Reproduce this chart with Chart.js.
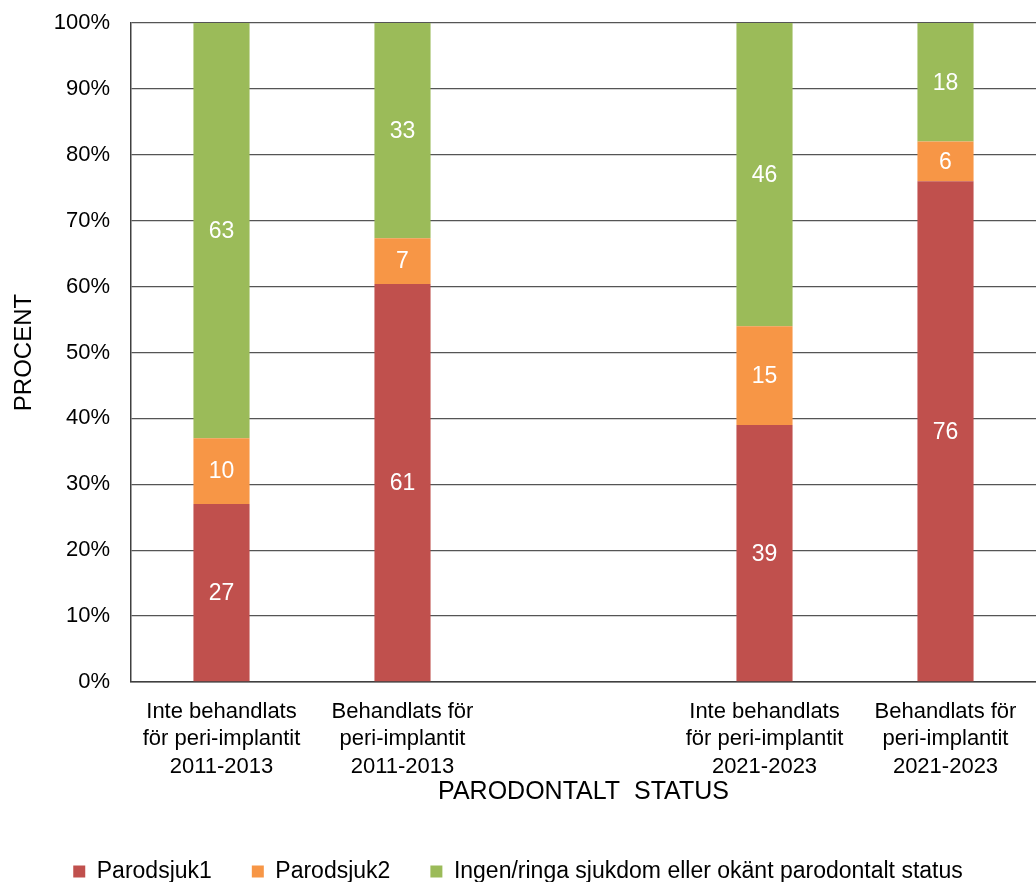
<!DOCTYPE html>
<html lang="sv">
<head>
<meta charset="UTF-8">
<title>Parodontalt status</title>
<script src="https://cdn.jsdelivr.net/npm/chart.js"></script>
<style>
    html, body { margin: 0; padding: 0; background: #fff; }
    #wrap { width: 1036px; height: 882px; position: relative; }
</style>
</head>
<body>
<div id="wrap"><canvas id="myChart"></canvas></div>
<script>
// kategorier (tom plats mellan perioderna)
const categories = [
    ['Inte behandlats', 'för peri-implantit', '2011-2013'],
    ['Behandlats för', 'peri-implantit', '2011-2013'],
    '',
    ['Inte behandlats', 'för peri-implantit', '2021-2023'],
    ['Behandlats för', 'peri-implantit', '2021-2023']
];
const parodsjuk1 = [27, 61, null, 39, 76];
const parodsjuk2 = [10, 7, null, 15, 6];
const ingen = [63, 33, null, 46, 18];
const seriesNames = ['Parodsjuk1', 'Parodsjuk2', 'Ingen/ringa sjukdom eller okänt parodontalt status'];
const colors = ['#C0504D', '#F79646', '#9BBB59'];

// staplarna visas som andel av summan (100 %)
const raw = [parodsjuk1, parodsjuk2, ingen];
const totals = categories.map((c, i) => raw.reduce((s, arr) => s + (arr[i] || 0), 0));
const pct = raw.map(arr => arr.map((v, i) => v == null ? null : v / totals[i] * 100));

const FONT = "'Liberation Sans', Arial, sans-serif";

// etiketter i staplarna
const valueLabels = {
    id: 'valueLabels',
    afterDatasetsDraw(chart) {
        const ctx = chart.ctx;
        ctx.save();
        ctx.font = '23px ' + FONT;
        ctx.fillStyle = '#fff';
        ctx.textAlign = 'center';
        ctx.textBaseline = 'middle';
        chart.data.datasets.forEach((ds, di) => {
            const meta = chart.getDatasetMeta(di);
            meta.data.forEach((bar, i) => {
                const v = raw[di][i];
                if (v == null) return;
                const y = (bar.y + bar.base) / 2;
                ctx.fillText(String(v), bar.x, y + 1);
            });
        });
        ctx.restore();
    }
};

const ctx = document.getElementById('myChart').getContext('2d');
const myChart = new Chart(ctx, {
    type: 'bar',
    data: {
        labels: categories,
        datasets: pct.map((d, i) => ({
            label: seriesNames[i],
            data: d,
            backgroundColor: colors[i],
            borderWidth: 0,
            barPercentage: 0.31,
            categoryPercentage: 1
        }))
    },
    options: {
        responsive: true,
        maintainAspectRatio: false,
        animation: false,
        layout: { padding: { top: 0, right: 0, left: 0, bottom: -11 } },
        plugins: {
            tooltip: { enabled: false },
            legend: {
                position: 'bottom',
                labels: {
                    font: { family: FONT, size: 23, lineHeight: 1.2 },
                    color: '#000',
                    boxWidth: 12,
                    boxHeight: 12,
                    padding: 40
                }
            }
        },
        scales: {
            x: {
                stacked: true,
                grid: { display: false, drawTicks: false },
                border: { color: '#404040', width: 1.5 },
                ticks: {
                    color: '#000',
                    font: { family: FONT, size: 22, lineHeight: 1.25 },
                    padding: 16,
                    maxRotation: 0,
                    autoSkip: false
                },
                title: {
                    display: true,
                    text: 'PARODONTALT  STATUS',
                    color: '#000',
                    font: { family: FONT, size: 25, lineHeight: 1.2 },
                    padding: { top: 0, bottom: 13 }
                },
                afterFit(scale) { scale.height = 138; }
            },
            y: {
                stacked: true,
                min: 0,
                max: 100,
                ticks: {
                    stepSize: 10,
                    color: '#000',
                    padding: 21,
                    font: { family: FONT, size: 22 },
                    callback: v => v + '%'
                },
                grid: { color: '#555', lineWidth: 1.3, drawTicks: false },
                border: { color: '#404040', width: 1.5 },
                title: {
                    display: true,
                    text: 'PROCENT',
                    color: '#000',
                    font: { family: FONT, size: 24, lineHeight: 1.2 },
                    padding: { top: 10, bottom: 0 }
                },
                afterFit(scale) {
                    scale.width = 131;
                    scale.paddingTop = 23;
                }
            }
        }
    },
    plugins: [valueLabels]
});
</script>
</body>
</html>
